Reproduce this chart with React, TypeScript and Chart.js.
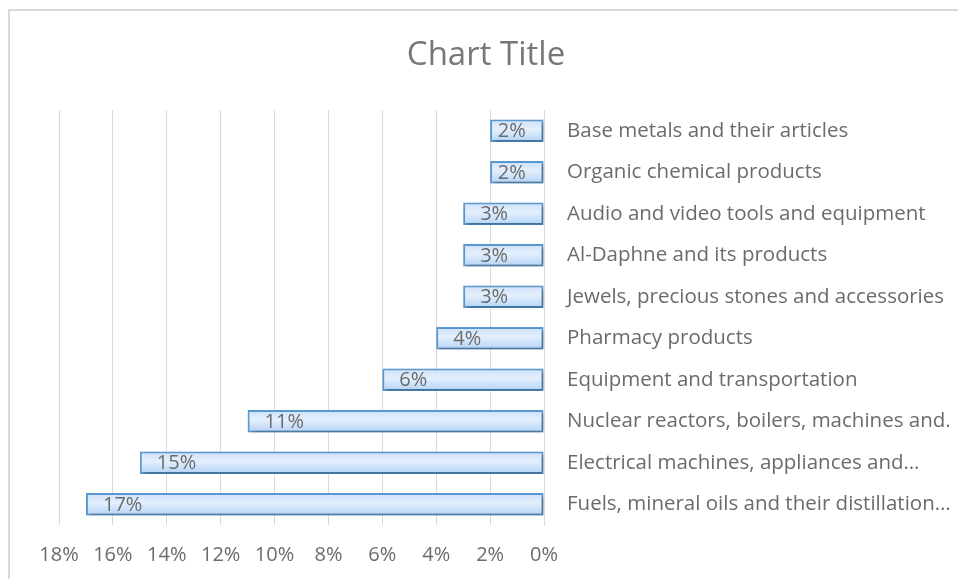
import React, { useEffect, useRef } from "react";
import { Chart, registerables } from "chart.js";

Chart.register(...registerables);

const categories = [
  "Base metals and their articles",
  "Organic chemical products",
  "Audio and video tools and equipment",
  "Al-Daphne and its products",
  "Jewels, precious stones and accessories",
  "Pharmacy products",
  "Equipment and transportation",
  "Nuclear reactors, boilers, machines and.",
  "Electrical machines, appliances and…",
  "Fuels, mineral oils and their distillation…",
];
const shares = [2, 2, 3, 3, 3, 4, 6, 11, 15, 17];
const axisMax = 18;
const axisStep = 2;
const chartTitle = "Chart Title";

const FONT = "'Open Sans', sans-serif";
const TEXT = "#6b6b6b";

const shadowPlugin = {
  id: "barShadow",
  beforeDatasetsDraw(chart: any) {
    const ctx = chart.ctx;
    ctx.save();
    ctx.shadowColor = "rgba(0,0,0,0.35)";
    ctx.shadowBlur = 4;
    ctx.shadowOffsetX = 2;
    ctx.shadowOffsetY = 2;
  },
  afterDatasetsDraw(chart: any) {
    chart.ctx.restore();
  },
};

const labelPlugin = {
  id: "insideLabels",
  afterDatasetsDraw(chart: any) {
    const ctx = chart.ctx;
    const meta = chart.getDatasetMeta(0);
    const data = chart.data.datasets[0].data as number[];
    ctx.save();
    ctx.shadowColor = "transparent";
    ctx.font = `20px ${FONT}`;
    ctx.fillStyle = TEXT;
    ctx.textAlign = "left";
    ctx.textBaseline = "middle";
    meta.data.forEach((el: any, i: number) => {
      const text = data[i] + "%";
      const tw = ctx.measureText(text).width;
      const left = Math.min(el.x, el.base);
      const w = Math.abs(el.base - el.x);
      const off = Math.min(17, (w - tw) / 2 - 5);
      ctx.fillText(text, left + off, el.y + 1);
    });
    ctx.restore();
  },
};

const titlePlugin = {
  id: "centeredTitle",
  afterDraw(chart: any) {
    const ctx = chart.ctx;
    ctx.save();
    ctx.font = `33px ${FONT}`;
    ctx.fillStyle = "#777777";
    ctx.textAlign = "center";
    ctx.textBaseline = "middle";
    ctx.fillText(chartTitle, 476, 45);
    ctx.restore();
  },
};

export default function App() {
  const ref = useRef<HTMLCanvasElement>(null);
  useEffect(() => {
    if (!ref.current) return;
    const chart = new Chart(ref.current, {
      type: "bar",
      data: {
        labels: categories,
        datasets: [
          {
            data: shares,
            backgroundColor: (c: any) => {
              const ch = c.chart;
              const ys = ch.scales && ch.scales.y;
              if (!ys || c.dataIndex === undefined) return "#cfe3fb";
              const cy = ys.getPixelForValue(c.dataIndex);
              if (!isFinite(cy)) return "#cfe3fb";
              const g = ch.ctx.createLinearGradient(0, cy - 11, 0, cy + 11);
              g.addColorStop(0, "#cfe2fa");
              g.addColorStop(0.45, "#e3effd");
              g.addColorStop(1, "#b3d3f6");
              return g;
            },
            borderColor: "#5b9bd5",
            borderWidth: 2,
            borderSkipped: false,
            barPercentage: 0.54,
            categoryPercentage: 1,
          },
        ],
      },
      options: {
        indexAxis: "y",
        animation: false,
        responsive: false,
        maintainAspectRatio: false,
        layout: { padding: { left: 49, right: 0, top: 99, bottom: 12 } },
        plugins: {
          legend: { display: false },
          tooltip: { enabled: false },
          title: { display: false },
        },
        scales: {
          x: {
            reverse: true,
            min: 0,
            max: axisMax,
            ticks: {
              stepSize: axisStep,
              callback: (v: any) => v + "%",
              color: TEXT,
              font: { family: FONT, size: 20 },
              padding: 18,
              maxRotation: 0,
            },
            grid: { color: "#d9d9d9", lineWidth: 1, drawTicks: false },
            border: { display: false },
            afterFit: (s: any) => {
              s.height = 42;
            },
          },
          y: {
            position: "right",
            ticks: {
              color: TEXT,
              font: { family: FONT, size: 20.5 },
              padding: 23,
              crossAlign: "near",
            },
            grid: { display: false, drawTicks: false },
            border: { display: true, color: "#d9d9d9", width: 1 },
            afterFit: (s: any) => {
              s.width = 414;
            },
          },
        },
      },
      plugins: [shadowPlugin, labelPlugin, titlePlugin],
    } as any);
    return () => chart.destroy();
  }, []);
  return (
    <div
      style={{
        position: "fixed",
        left: 8,
        top: 9,
        width: 950,
        height: 570,
        borderTop: "2px solid #d9d9d9",
        borderLeft: "2px solid #d9d9d9",
        background: "#fff",
        overflow: "hidden",
        boxSizing: "border-box",
      }}
    >
      <canvas ref={ref} width={948} height={568} style={{ display: "block" }} />
    </div>
  );
}
